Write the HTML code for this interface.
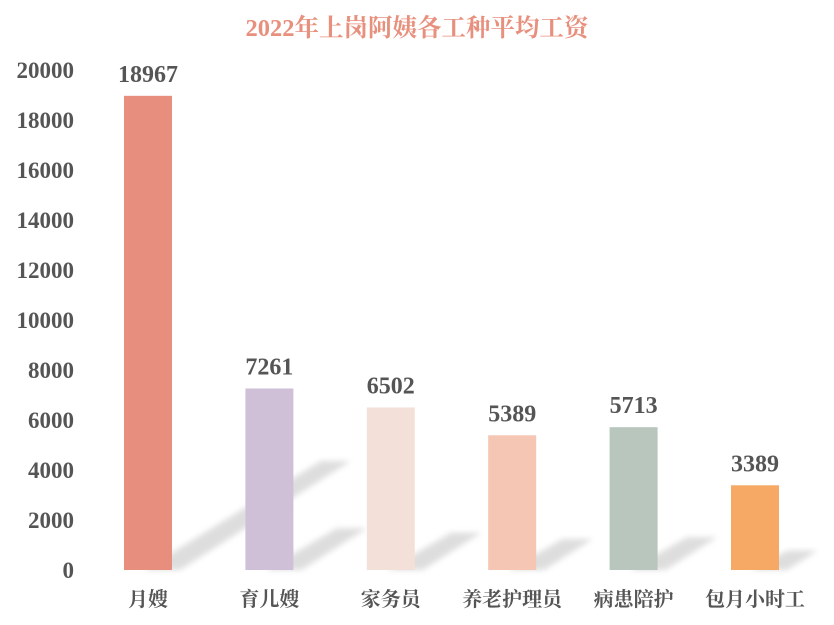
<!DOCTYPE html>
<html><head><meta charset="utf-8"><style>
body{margin:0;background:#fff;}
svg{display:block;font-family:"Liberation Serif","Noto Serif CJK SC",serif;}
</style></head><body>
<svg id="c" width="834" height="625">
<defs><filter id="bl" x="-20%" y="-20%" width="140%" height="140%"><feGaussianBlur stdDeviation="3"/></filter></defs>
<text x="417" y="36" text-anchor="middle" font-size="24.5" font-weight="bold" fill="#e8907e">2022年上岗阿姨各工种平均工资</text>
</svg>
<script>
const categories=["月嫂","育儿嫂","家务员","养老护理员","病患陪护","包月小时工"];
const values=[18967,7261,6502,5389,5713,3389];
const ticks=[0,2000,4000,6000,8000,10000,12000,14000,16000,18000,20000];
const colors=["#e88e7e","#cfc0d7","#f3e1d9","#f4c6b3","#b8c6bd","#f5a964"];
(function(){
const svg=document.getElementById('c');
const NS="http://www.w3.org/2000/svg";
const base=570,plotTop=70,maxV=20000;
const y=v=>base-(v/maxV)*(base-plotTop);
const x0=148,step=121.4,bw=48;
const xc=i=>x0+i*step;
function mk(t,a){const e=document.createElementNS(NS,t);for(const k in a)e.setAttribute(k,a[k]);svg.appendChild(e);return e;}
ticks.forEach(t=>{
 const e=mk('text',{x:74,y:y(t)+8,'text-anchor':'end','font-size':23,'font-weight':'bold',fill:'#555'});
 e.textContent=t;
 
 
});
values.forEach((v,i)=>{
 const h=base-y(v),xl=xc(i)-bw/2,xr=xc(i)+bw/2,dx=h*0.36,dy=h*0.23;
 const s=mk('polygon',{points:`${xl+20},${base} ${xr+8},${base} ${xr+dx+8},${base-dy} ${xr+dx-22},${base-dy}`,fill:'#d8d8d8',filter:'url(#bl)',opacity:0.85});
 
 
});
values.forEach((v,i)=>{
 const r=mk('rect',{x:xc(i)-bw/2,y:y(v),width:bw,height:base-y(v),fill:colors[i]});
 
 
 const l=mk('text',{x:xc(i),y:y(v)-14,'text-anchor':'middle','font-size':24,'font-weight':'bold',fill:'#555'});
 l.textContent=v;
 
 
 const c=mk('text',{x:xc(i),y:606,'text-anchor':'middle','font-size':20,'font-weight':'bold',fill:'#555'});
 c.textContent=categories[i];
 
 
});
})();
</script>
</body></html>
